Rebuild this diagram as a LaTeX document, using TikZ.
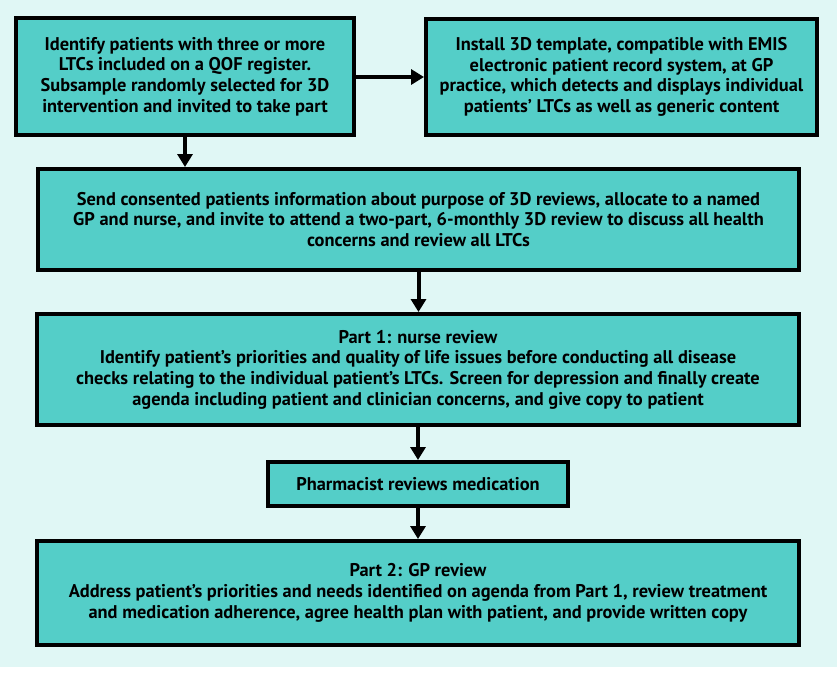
\documentclass[tikz,border=0pt]{standalone}
\usepackage{fontspec}
\setmainfont{PT Sans}
\usepackage{tikz}
\usetikzlibrary{arrows.meta}
\definecolor{bgcyan}{RGB}{224,247,245}
\definecolor{boxteal}{RGB}{84,206,200}

\begin{document}
\begin{tikzpicture}[x=1pt,y=-1pt,
		stage/.style={draw=black, line width=4pt, fill=boxteal, align=center, inner sep=0pt,
			font=\bfseries\fontsize{18.4}{20.7}\selectfont},
		flow/.style={-{Triangle[length=13pt,width=15pt]}, line width=4pt}]
		\useasboundingbox (0,0) rectangle (837,680);
		\fill[bgcyan] (0,0) rectangle (837,667);

		\node[stage, minimum width=338pt, minimum height=117pt] (identify) at (185,76.5)
			{Identify patients with three or more\\LTCs included on a QOF register.\\Subsample randomly selected for 3D\\intervention and invited to take part};
		\node[stage, minimum width=391pt, minimum height=116pt] (template) at (621.5,77)
			{Install 3D template, compatible with EMIS\\electronic patient record system, at GP\\practice, which detects and displays individual\\patients’ LTCs as well as generic content};
		\node[stage, minimum width=761pt, minimum height=101pt] (send) at (418.5,219.5)
			{Send consented patients information about purpose of 3D reviews, allocate to a named\\GP and nurse, and invite to attend a two-part, 6-monthly 3D review to discuss all health\\concerns and review all LTCs};
		\node[stage, minimum width=762pt, minimum height=111pt] (nurse) at (418,369.5)
			{Part 1: nurse review\\Identify patient’s priorities and quality of life issues before conducting all disease\\checks relating to the individual patient’s LTCs. Screen for depression and finally create\\agenda including patient and clinician concerns, and give copy to patient};
		\node[stage, minimum width=300pt, minimum height=44pt] (pharm) at (418,484)
			{Pharmacist reviews medication};
		\node[stage, minimum width=762pt, minimum height=104pt] (gp) at (418,593)
			{Part 2: GP review\\Address patient’s priorities and needs identified on agenda from Part 1, review treatment\\and medication adherence, agree health plan with patient, and provide written copy};

		\draw[flow] (identify.east |- 0,77) -- (template.west |- 0,77);
		\draw[flow] (identify.south) -- (identify.south |- send.north);
		\draw[flow] (send.south) -- (send.south |- nurse.north);
		\draw[flow] (nurse.south) -- (nurse.south |- pharm.north);
		\draw[flow] (pharm.south) -- (pharm.south |- gp.north);
\end{tikzpicture}
\end{document}
